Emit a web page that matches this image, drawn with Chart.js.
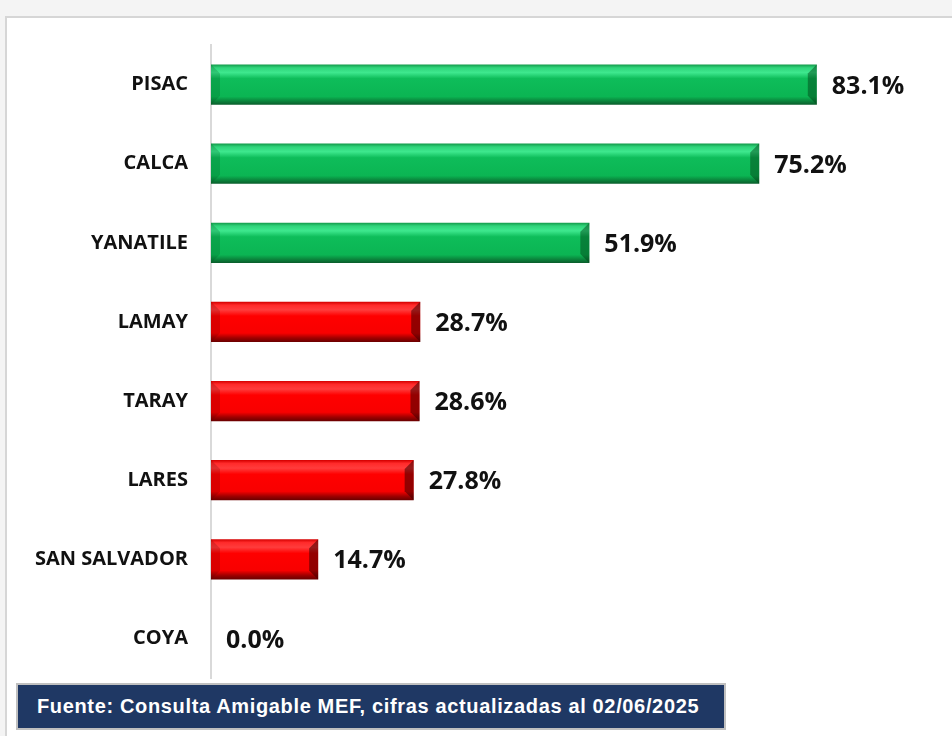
<!DOCTYPE html>
<html>
<head>
<meta charset="utf-8">
<script src="https://cdn.jsdelivr.net/npm/chart.js@4"></script>
<style>
  html, body { margin: 0; padding: 0; }
  body { width: 952px; height: 736px; background: #f4f4f4; position: relative; overflow: hidden; }
  #panel { position: absolute; left: 5px; top: 16px; right: 0; bottom: 0; background: #fff;
           border-top: 2px solid #d6d6d6; border-left: 2px solid #d6d6d6; }
  #wrap { position: absolute; left: 0; top: 0; width: 952px; height: 736px; }
  #fuente { position: absolute; left: 16px; top: 683px; width: 710px; height: 47px;
            background: #1f3864; border: 2px solid #c0c0c0; box-sizing: border-box;
            color: #fff; font: bold 20px "Liberation Sans", Arial, sans-serif; letter-spacing: 0.65px;
            line-height: 43px; padding-left: 19px; white-space: nowrap; }
</style>
</head>
<body>
<div id="panel"></div>
<div id="wrap"><canvas id="chart" width="952" height="736"></canvas></div>
<div id="fuente">Fuente: Consulta Amigable MEF, cifras actualizadas al 02/06/2025</div>

<script>
// datos del gráfico
const distritos = ['PISAC', 'CALCA', 'YANATILE', 'LAMAY', 'TARAY', 'LARES', 'SAN SALVADOR', 'COYA'];
const avance = [83.1, 75.2, 51.9, 28.7, 28.6, 27.8, 14.7, 0.0];
const umbral = 50; // verde por encima, rojo por debajo

const canvas = document.getElementById('chart');

// degradado vertical para dar efecto 3D a cada barra
function barGradient(ctx) {
    const chart = ctx.chart;
    const verde = avance[ctx.dataIndex] >= umbral;
    const yScale = chart.scales.y;
    const yc = yScale ? yScale.getPixelForValue(ctx.dataIndex) : NaN;
    if (!isFinite(yc)) return verde ? '#0bb553' : '#ff0000';
    const top = yc - 20, bottom = yc + 20;
    const g = chart.ctx.createLinearGradient(0, top, 0, bottom);
    if (verde) {
        g.addColorStop(0, '#139a4a');
        g.addColorStop(0.08, '#2fd47a');
        g.addColorStop(0.2, '#3ee88e');
        g.addColorStop(0.35, '#0ebd5a');
        g.addColorStop(0.8, '#0bb553');
        g.addColorStop(0.9, '#0a8a3e');
        g.addColorStop(1, '#0a5e2c');
    } else {
        g.addColorStop(0, '#d40000');
        g.addColorStop(0.08, '#ff2a2a');
        g.addColorStop(0.2, '#ff3c3c');
        g.addColorStop(0.35, '#ff0000');
        g.addColorStop(0.78, '#f80000');
        g.addColorStop(0.9, '#a00000');
        g.addColorStop(1, '#6a0000');
    }
    return g;
}

// biseles en los extremos de las barras y etiquetas de valor
const bevelAndLabels = {
    id: 'bevelAndLabels',
    afterDatasetsDraw(chart) {
        const { ctx } = chart;
        const meta = chart.getDatasetMeta(0);
        ctx.save();
        meta.data.forEach((bar, i) => {
            const { x, y, base, height } = bar.getProps(['x', 'y', 'base', 'height'], true);
            const top = y - height / 2, bottom = y + height / 2;
            const w = x - base;
            const b = Math.min(9, w / 2);
            if (w > 1) {
                const verde = avance[i] >= umbral;
                // extremo derecho (más oscuro)
                ctx.fillStyle = verde ? 'rgba(0,60,20,0.45)' : 'rgba(60,0,0,0.55)';
                ctx.beginPath();
                ctx.moveTo(x - b, top + b);
                ctx.lineTo(x, top);
                ctx.lineTo(x, bottom);
                ctx.lineTo(x - b, bottom - b);
                ctx.closePath();
                ctx.fill();
                // extremo izquierdo (sombra suave)
                ctx.fillStyle = verde ? 'rgba(0,80,30,0.22)' : 'rgba(90,0,0,0.2)';
                ctx.beginPath();
                ctx.moveTo(base, top);
                ctx.lineTo(base + b, top + b);
                ctx.lineTo(base + b, bottom - b);
                ctx.lineTo(base, bottom);
                ctx.closePath();
                ctx.fill();
            }
            ctx.fillStyle = '#111';
            ctx.font = 'bold 25px "Open Sans", sans-serif';
            ctx.textAlign = 'left';
            ctx.textBaseline = 'middle';
            ctx.fillText(avance[i].toFixed(1) + '%', x + 15, y + 2);
        });
        ctx.restore();
    }
};

new Chart(canvas, {
    type: 'bar',
    data: {
        labels: distritos,
        datasets: [{
            data: avance,
            backgroundColor: barGradient,
            borderWidth: 0,
            categoryPercentage: 1,
            barPercentage: 0.51
        }]
    },
    options: {
        indexAxis: 'y',
        responsive: false,
        animation: false,
        layout: { padding: { left: 0, top: 45, right: 12, bottom: 58 } },
        scales: {
            x: { display: false, min: 0, max: 100 },
            y: {
                grid: { display: false, drawTicks: false },
                border: { display: true, color: '#d9d9d9', width: 2 },
                ticks: {
                    color: '#111',
                    padding: 23,
                    font: { family: '"Open Sans", sans-serif', weight: 'bold', size: 20 }
                },
                afterFit(scale) { scale.width = 211; }
            }
        },
        plugins: {
            legend: { display: false },
            tooltip: { enabled: false }
        }
    },
    plugins: [bevelAndLabels]
});
</script>
</body>
</html>
